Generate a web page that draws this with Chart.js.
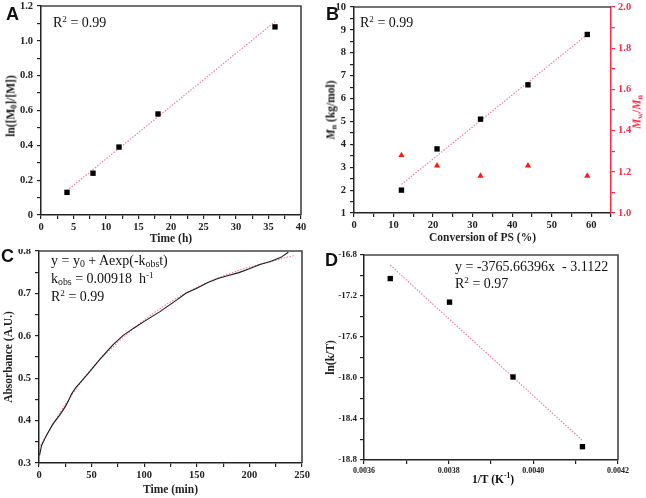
<!DOCTYPE html>
<html>
<head>
<meta charset="utf-8">
<script src="https://cdn.jsdelivr.net/npm/chart.js@4.4.0/dist/chart.umd.min.js"></script>
<style>
  body { margin: 0; background: #fff; }
  #fig { position: relative; width: 646px; height: 498px; overflow: hidden; font-family: "Liberation Serif", serif; }
  #fig canvas { position: absolute; }
  .txt { position: absolute; white-space: nowrap; color: #111; font-size: 14px; line-height: 18px; }
  .lab { position: absolute; font-family: "Liberation Sans", sans-serif; font-weight: bold; font-size: 18px; line-height: 18px; color: #111; }
  .ttl { position: absolute; white-space: nowrap; font-weight: bold; font-size: 11.5px; line-height: 13px; color: #111; }
  .rot { transform: translate(-50%, -50%) rotate(-90deg); }
  .ctr { transform: translate(-50%, -50%); }
  sub { font-size: 70%; line-height: 0; vertical-align: -0.25em; }
  sup { font-size: 65%; line-height: 0; vertical-align: 0.55em; }
</style>
</head>
<body>
<div id="fig">
  <canvas id="chartA" width="323" height="249" style="left:0;top:0"></canvas>
  <canvas id="chartB" width="323" height="249" style="left:323px;top:0"></canvas>
  <canvas id="chartC" width="323" height="249" style="left:0;top:249px"></canvas>
  <canvas id="chartD" width="323" height="249" style="left:323px;top:249px"></canvas>

  <div class="lab" style="left:6px;top:5px">A</div>
  <div class="lab" style="left:326px;top:5px">B</div>
  <div class="lab" style="left:1px;top:247px">C</div>
  <div class="lab" style="left:325px;top:251px">D</div>

  <div class="txt" style="left:53px;top:14px">R<sup>2</sup> = 0.99</div>
  <div class="txt" style="left:360px;top:14px">R<sup>2</sup> = 0.99</div>
  <div class="txt" style="left:51px;top:252px">y = y<sub>0</sub> + Aexp(-k<sub>obs</sub>t)</div>
  <div class="txt" style="left:51px;top:270px">k<sub>obs</sub> = 0.00918&nbsp; h<sup>-1</sup></div>
  <div class="txt" style="left:51px;top:288px">R<sup>2</sup> = 0.99</div>
  <div class="txt" style="left:455px;top:258px">y = -3765.66396x&nbsp; - 3.1122</div>
  <div class="txt" style="left:455px;top:275px">R<sup>2</sup> = 0.97</div>

  <div class="ttl rot" style="left:11px;top:106px">ln([M<sub>0</sub>]/[M])</div>
  <div class="ttl rot" style="left:331px;top:110px"><i>M</i><sub>n</sub> (kg/mol)</div>
  <div class="ttl rot" style="left:637px;top:112px;color:#ff2a4a"><i>M</i><sub>w</sub>/<i>M</i><sub>n</sub></div>
  <div class="ttl ctr" style="left:493px;top:479px">1/T (K<sup>-1</sup>)</div>
</div>
<script>
// panel A: conversion kinetics
const aTime = [4, 8, 12, 18, 36];
const aLnM = [0.13, 0.24, 0.39, 0.58, 1.08];
const aFitX = [4, 36];
const aFitY = [0.14, 1.11];

// panel B: Mn and dispersity vs conversion
const bConv = [12, 21, 32, 44, 59];
const bMn = [2.0, 3.8, 5.1, 6.6, 8.8];
const bPdi = [1.28, 1.23, 1.18, 1.23, 1.18];
const bFitX = [12, 59];
const bFitY = [2.25, 8.8];

// panel C: absorbance trace and its fit
const cTime = [0.5, 2.5, 7, 13, 20, 25, 28, 31, 35, 40, 48, 58, 70, 80, 90, 100, 115, 130, 140, 150, 160, 170, 180, 190, 200, 210, 220, 230, 237];
const cAbs = [0.318, 0.342, 0.365, 0.391, 0.414, 0.433, 0.447, 0.463, 0.478, 0.492, 0.515, 0.545, 0.578, 0.601, 0.618, 0.634, 0.657, 0.683, 0.701, 0.712, 0.725, 0.735, 0.742, 0.749, 0.758, 0.768, 0.775, 0.785, 0.797];
const cFitTime = [0, 25, 50, 75, 100, 125, 150, 175, 200, 225, 242];
const cFitAbs = [0.335, 0.438, 0.522, 0.585, 0.637, 0.680, 0.714, 0.741, 0.762, 0.778, 0.789];

// panel D: Eyring plot
const dInvT = [0.003662, 0.003802, 0.003952, 0.004116];
const dLnKT = [-17.03, -17.26, -17.99, -18.67];
const dFitX = [0.003662, 0.004116];
const dFitY = [-16.90, -18.61];

const SERIF = "'Liberation Serif', serif";
const INK = '#222';
const PINK = '#f2809e';
const RED = '#ff2a4a';

function pts(xs, ys) {
  return xs.map((x, i) => ({ x: x, y: ys[i] }));
}

//linear axis in the Origin look: outward ticks, minor ticks without labels
function axis(o) {
  const col = o.color || INK;
  return {
    type: 'linear',
    position: o.position,
    min: o.min,
    max: o.max,
    afterFit: function (s) {
      if (o.width) s.width = o.width;
      if (o.height) s.height = o.height;
      s.paddingTop = s.paddingBottom = s.paddingLeft = s.paddingRight = 0;
    },
    ticks: {
      stepSize: o.step,
      autoSkip: false,
      maxRotation: 0,
      color: col,
      padding: o.pad == null ? 2 : o.pad,
      font: { family: SERIF, weight: 'bold', size: o.size || 10.5 },
      callback: function (v) {
        const k = Math.round(v / o.major);
        if (Math.abs(k * o.major - v) > o.major * 1e-6) return '';
        return o.fmt ? o.fmt(k * o.major) : String(Math.round(k * o.major));
      }
    },
    grid: { drawOnChartArea: false, drawTicks: true, tickLength: 4, color: col, lineWidth: 1.2 },
    border: { color: col, width: 1.5 },
    title: o.title ? {
      display: true, text: o.title, color: col,
      font: { family: SERIF, weight: 'bold', size: 11.5 },
      padding: o.tpad || 0
    } : { display: false }
  };
}

//top and right edges of the plot box
const frame = {
  id: 'frame',
  afterDraw(chart, args, opts) {
    const a = chart.chartArea, ctx = chart.ctx;
    ctx.save();
    ctx.strokeStyle = '#444';
    ctx.lineWidth = 1.6;
    ctx.beginPath();
    ctx.moveTo(a.left, a.top);
    ctx.lineTo(a.right, a.top);
    if (!opts.noRight) ctx.lineTo(a.right, a.bottom);
    ctx.stroke();
    ctx.restore();
  }
};

function squares(data, axisId) {
  return { data: data, yAxisID: axisId || 'y', pointStyle: 'rect', pointRadius: 3.8,
    backgroundColor: '#000', borderColor: '#000', borderWidth: 0, showLine: false };
}
function fitLine(data, axisId) {
  return { data: data, yAxisID: axisId || 'y', showLine: true, pointRadius: 0,
    borderColor: PINK, borderWidth: 1.2, borderDash: [1.5, 1.5] };
}

function make(id, datasets, scales, pad, frameOpts) {
  return new Chart(document.getElementById(id), {
    type: 'scatter',
    plugins: [frame],
    data: { datasets: datasets },
    options: {
      responsive: false,
      animation: false,
      layout: { padding: pad },
      scales: scales,
      plugins: { legend: { display: false }, tooltip: { enabled: false }, frame: frameOpts || {} }
    }
  });
}

const one = v => v.toFixed(1);

//A
make('chartA',
  [squares(pts(aTime, aLnM)), fitLine(pts(aFitX, aFitY))],
  {
    x: axis({ position: 'bottom', min: 0, max: 40, step: 2.5, major: 5, height: 34, title: 'Time (h)', tpad: { bottom: 3 } }),
    y: axis({ position: 'left', min: 0, max: 1.2, step: 0.1, major: 0.2, width: 41, pad: 4,
      fmt: v => v === 0 ? '0' : v.toFixed(1) })
  },
  { top: 6, right: 22, left: 0, bottom: 0 });

//B
make('chartB',
  [squares(pts(bConv, bMn)), fitLine(pts(bFitX, bFitY)),
   { data: pts(bConv, bPdi), yAxisID: 'y1', pointStyle: 'triangle', pointRadius: 3.6,
     backgroundColor: '#ff1a1a', borderColor: '#ff1a1a', borderWidth: 0, showLine: false }],
  {
    x: axis({ position: 'bottom', min: 0, max: 65, step: 5, major: 10, height: 36, title: 'Conversion of PS (%)', tpad: { bottom: 4 } }),
    y: axis({ position: 'left', min: 1, max: 10, step: 0.5, major: 1, width: 31, pad: 4 }),
    y1: axis({ position: 'right', min: 1, max: 2, step: 0.1, major: 0.2, width: 35, pad: 3, color: RED, fmt: one })
  },
  { top: 7, right: 0, left: 0, bottom: 0 }, { noRight: true });

//C
make('chartC',
  [{ data: pts(cTime, cAbs), showLine: true, pointRadius: 0, borderColor: '#1a1a1a', borderWidth: 1.1 },
   Object.assign(fitLine(pts(cFitTime, cFitAbs)), { cubicInterpolationMode: 'monotone' })],
  {
    x: axis({ position: 'bottom', min: 0, max: 250, step: 25, major: 50, height: 35, title: 'Time (min)', tpad: { bottom: 1 } }),
    y: axis({ position: 'left', min: 0.3, max: 0.8, step: 0.05, major: 0.1, width: 39, pad: 4, fmt: one,
      title: 'Absorbance (A.U.)', tpad: { top: 2 } })
  },
  { top: 2, right: 21, left: 0, bottom: 0 });

//D
make('chartD',
  [squares(pts(dInvT, dLnKT)), fitLine(pts(dFitX, dFitY))],
  {
    x: axis({ position: 'bottom', min: 0.0036, max: 0.0042, step: 0.0001, major: 0.0002, height: 38, size: 8,
      fmt: v => v.toFixed(4) }),
    y: axis({ position: 'left', min: -18.8, max: -16.8, step: 0.2, major: 0.4, width: 41, pad: 3, size: 9, fmt: one,
      title: 'ln(k/T)', tpad: { top: 1 } })
  },
  { top: 6, right: 28, left: 0, bottom: 0 });
</script>
</body>
</html>
